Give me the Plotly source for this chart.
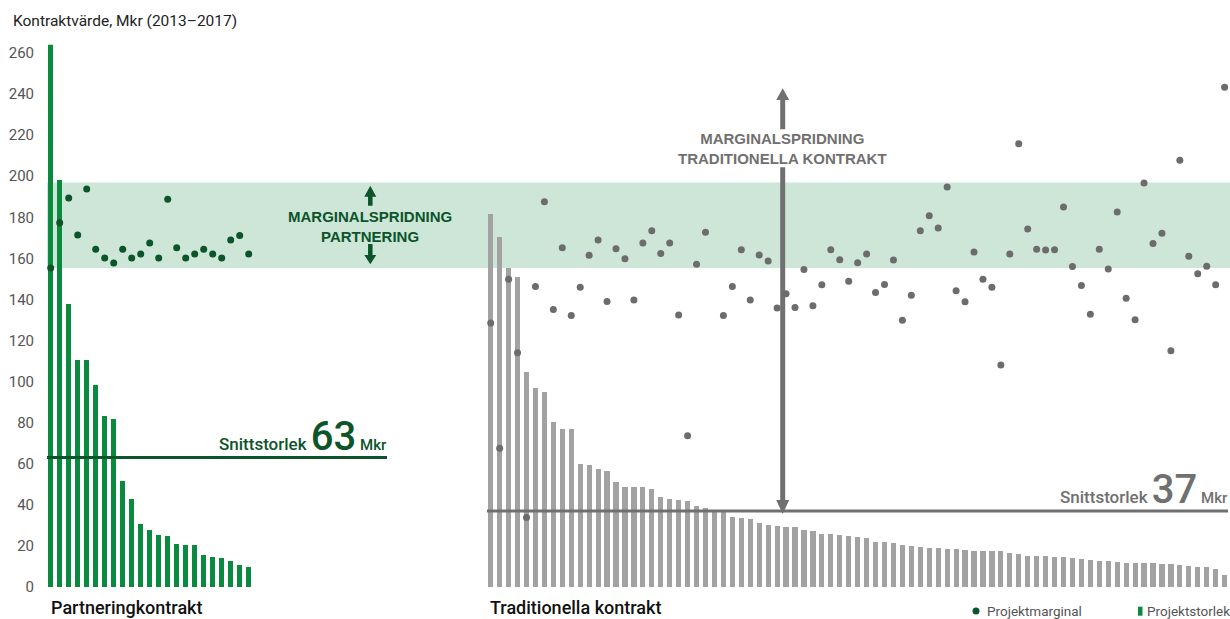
import plotly.graph_objects as go

W, H = 1230, 619

# Project size (Mkr) and project margin marker level, partnering contracts
partner_size = [288, 198, 138, 110.7, 110.4, 98.2, 83.3, 82, 51.7, 43, 30.6, 27.8,
                25.2, 25, 21.1, 20.3, 20.4, 15.8, 14.6, 14.1, 12.7, 10.9, 9.9]
partner_margin = [155.3, 177.4, 189.4, 171.4, 193.8, 164.4, 160.2, 157.7, 164.4, 160.2,
                  162.1, 167.5, 160.2, 188.8, 165.2, 160.2, 162.1, 164.4, 162.1, 160.2,
                  168.9, 171.2, 162.1]

# Project size (Mkr) and project margin marker level, traditional contracts
trad_size = [181.8, 170.2, 155.4, 150.7, 104.9, 96.9, 94.8, 80.5, 77.1, 77.1,
             59.8, 59.2, 57.4, 56.6, 50.9, 48.9, 48.6, 48.6, 47.6, 43.7,
             42.9, 42.3, 41.8, 39.5, 38.4, 37.0, 36.5, 34.3, 33.8, 33.2,
             31.2, 30.4, 29.8, 29.3, 29.3, 27.8, 27.5, 25.7, 25.7, 25.4,
             25.0, 24.2, 23.9, 21.8, 21.8, 21.3, 20.3, 20.0, 19.5, 19.2,
             18.9, 18.5, 18.5, 18.2, 17.6, 17.6, 17.6, 17.6, 16.6, 15.9,
             15.1, 15.1, 15.1, 14.6, 14.6, 14.1, 13.7, 13.2, 12.8, 12.7,
             12.4, 11.9, 11.5, 11.5, 11.5, 11.2, 11.1, 10.7, 10.1, 9.9,
             9.6, 8.8, 5.9]
trad_margin = [128.5, 67.5, 149.9, 114.0, 33.8, 146.3, 187.6, 135.1, 165.2, 132.2,
               145.9, 161.5, 168.9, 139.0, 164.7, 159.8, 139.7, 167.5, 173.5, 162.4,
               167.5, 132.4, 73.7, 157.1, 172.7, None, 132.2, 146.3, 164.2, 139.8,
               161.6, 158.7, 135.9, 142.8, 136.1, 154.6, 136.9, 147.2, 164.2, 159.4,
               148.9, 157.9, 162.1, 143.4, 147.3, 159.2, 129.9, 142.0, 173.5, 180.8,
               174.8, 194.8, 144.2, 138.9, 163.1, 149.8, 145.9, 108.1, 162.1, 215.8,
               174.3, 164.5, 164.1, 164.2, 185.0, 156.1, 146.8, 132.8, 164.4, 154.8,
               182.6, 140.6, 130.1, 196.7, 167.3, 172.2, 115.0, 207.8, 161.0, 152.5,
               156.2, 147.2, 243.3]

avg_partner = 63
avg_trad = 37
band_low, band_high = 155.3, 196.9
y_ticks = list(range(0, 261, 20))

GREEN = "#0a8a3f"
DARK_GREEN = "#0c5429"
BAND = "#cde6d8"
GREY_BAR = "#a2a2a2"
GREY_DOT = "#6c6c6c"
GREY_LINE = "#707070"

# pixel layout helpers (figure has zero margins, so paper == page)
Y0_PX, Y_TOP_PX, Y_MAX = 587.0, 44.8, 264.0
def fx(px):
    return px / W
def fy(py):
    return 1 - py / H
def val_to_px(v):
    return Y0_PX - v * (Y0_PX - Y_TOP_PX) / Y_MAX

L_FIRST, L_STEP, L_X0, L_X1 = 50.7, 9.0, 47.0, 387.0
R_FIRST, R_STEP, R_X0, R_X1 = 490.7, 8.95, 487.0, 1228.0
l_range = [(L_X0 - L_FIRST) / L_STEP, (L_X1 - L_FIRST) / L_STEP]
r_range = [(R_X0 - R_FIRST) / R_STEP, (R_X1 - R_FIRST) / R_STEP]

lx = list(range(len(partner_size)))
rx = list(range(len(trad_size)))

fig = go.Figure()

fig.add_trace(go.Bar(x=lx, y=partner_size, marker=dict(color=GREEN, line=dict(width=0)),
                     width=0.58, xaxis="x", yaxis="y", name="Projektstorlek"))
fig.add_trace(go.Bar(x=rx, y=trad_size, marker=dict(color=GREY_BAR, line=dict(width=0)),
                     width=0.58, xaxis="x2", yaxis="y", name="Projektstorlek"))

fig.add_trace(go.Scatter(x=l_range, y=[avg_partner] * 2, mode="lines",
                         line=dict(color=DARK_GREEN, width=3), xaxis="x", yaxis="y"))
fig.add_trace(go.Scatter(x=r_range, y=[avg_trad] * 2, mode="lines",
                         line=dict(color=GREY_LINE, width=3), xaxis="x2", yaxis="y"))

fig.add_trace(go.Scatter(x=lx, y=partner_margin, mode="markers",
                         marker=dict(color=DARK_GREEN, size=7), xaxis="x", yaxis="y",
                         name="Projektmarginal", cliponaxis=False))
fig.add_trace(go.Scatter(x=rx, y=trad_margin, mode="markers",
                         marker=dict(color=GREY_DOT, size=7), xaxis="x2", yaxis="y",
                         name="Projektmarginal", cliponaxis=False))

shapes = []
# margin band
shapes.append(dict(type="rect", xref="paper", yref="y", x0=fx(47), x1=1,
                   y0=band_low, y1=band_high, fillcolor=BAND, line=dict(width=0),
                   layer="below"))

def arrow_path(x, tip, base, tail, hw, sw):
    pts = [(x - sw / 2, tail), (x - sw / 2, base), (x - hw / 2, base), (x, tip),
           (x + hw / 2, base), (x + sw / 2, base), (x + sw / 2, tail)]
    return "M " + " L ".join(f"{fx(px):.5f},{fy(py):.5f}" for px, py in pts) + " Z"

def add_arrow(x, tip, base, tail, hw, sw, color):
    shapes.append(dict(type="path", xref="paper", yref="paper",
                       path=arrow_path(x, tip, base, tail, hw, sw),
                       fillcolor=color, line=dict(width=0), layer="below"))

# partnering spread arrows
add_arrow(370.3, 185.7, 196.7, 205.7, 12, 4.5, DARK_GREEN)
add_arrow(370.3, 264.3, 255.0, 244.0, 12, 4.5, DARK_GREEN)
# traditional spread arrows
add_arrow(782.7, 88.3, 100.0, 129.3, 13, 5, GREY_LINE)
add_arrow(782.7, val_to_px(avg_trad) + 3, val_to_px(avg_trad) - 11, 167.3, 13, 5, GREY_LINE)

# legend marks
shapes.append(dict(type="circle", xref="paper", yref="paper",
                   x0=fx(972.5), x1=fx(979.5), y0=fy(614.5), y1=fy(607.5),
                   fillcolor=DARK_GREEN, line=dict(width=0)))
shapes.append(dict(type="rect", xref="paper", yref="paper",
                   x0=fx(1138), x1=fx(1142.5), y0=fy(615.7), y1=fy(606.7),
                   fillcolor=GREEN, line=dict(width=0)))

FONT = "Roboto, Liberation Sans, sans-serif"
BOLD = "Liberation Sans, Roboto, sans-serif"

avg_label = ("Snittstorlek <span style='font-size:40px'>%d</span>"
             "<span style='font-size:15px'> Mkr</span>")

annotations = [
    dict(text="Kontraktvärde, Mkr (2013–2017)", x=fx(11), y=fy(21), xref="paper", yref="paper",
         xanchor="left", yanchor="middle", showarrow=False,
         font=dict(family=FONT, size=15.5, color="#222222")),
    dict(text="MARGINALSPRIDNING<br>PARTNERING", x=fx(370.3), y=fy(226), xref="paper",
         yref="paper", xanchor="center", yanchor="middle", showarrow=False,
         font=dict(family=BOLD, size=15, color=DARK_GREEN, weight="bold")),
    dict(text="MARGINALSPRIDNING<br>TRADITIONELLA KONTRAKT", x=fx(782.7), y=fy(149),
         xref="paper", yref="paper", xanchor="center", yanchor="middle", showarrow=False,
         font=dict(family=BOLD, size=15, color=GREY_LINE, weight="bold")),
    dict(text=avg_label % avg_partner,
         x=fx(389), y=avg_partner, xref="paper", yref="y", xanchor="right", yanchor="bottom",
         yshift=-4, showarrow=False,
         font=dict(family=FONT, size=17, color=DARK_GREEN, weight=500)),
    dict(text=avg_label % avg_trad,
         x=fx(1230), y=avg_trad, xref="paper", yref="y", xanchor="right", yanchor="bottom",
         yshift=-4, showarrow=False,
         font=dict(family=FONT, size=17, color=GREY_LINE, weight=500)),
    dict(text="Partneringkontrakt", x=fx(49), y=fy(607), xref="paper", yref="paper",
         xanchor="left", yanchor="middle", showarrow=False,
         font=dict(family=FONT, size=18, color="#111111", weight=500)),
    dict(text="Traditionella kontrakt", x=fx(488), y=fy(607), xref="paper", yref="paper",
         xanchor="left", yanchor="middle", showarrow=False,
         font=dict(family=FONT, size=18, color="#111111", weight=500)),
    dict(text="Projektmarginal", x=fx(985), y=fy(611), xref="paper", yref="paper",
         xanchor="left", yanchor="middle", showarrow=False,
         font=dict(family=FONT, size=13.5, color="#555555")),
    dict(text="Projektstorlek", x=fx(1145), y=fy(611), xref="paper", yref="paper",
         xanchor="left", yanchor="middle", showarrow=False,
         font=dict(family=FONT, size=13.5, color="#555555")),
]

ydom = [fy(Y0_PX), fy(Y_TOP_PX)]
fig.update_layout(
    width=W, height=H,
    margin=dict(l=0, r=0, t=0, b=0, autoexpand=False),
    paper_bgcolor="white", plot_bgcolor="rgba(0,0,0,0)",
    showlegend=False, bargap=0,
    font=dict(family=FONT, color="#555555"),
    xaxis=dict(domain=[fx(L_X0), fx(L_X1)], range=l_range, visible=False, fixedrange=True),
    xaxis2=dict(domain=[fx(R_X0), fx(R_X1)], range=r_range, visible=False, fixedrange=True,
                anchor="y"),
    yaxis=dict(domain=ydom, range=[0, Y_MAX], tickvals=y_ticks, showgrid=False,
               zeroline=False, showline=False, ticks="outside", ticklen=9,
               tickcolor="rgba(0,0,0,0)", tickfont=dict(size=15, color="#555555"),
               fixedrange=True, anchor="x"),
    shapes=shapes,
    annotations=annotations,
    hovermode=False,
)

fig.write_html("out.html", config=dict(displayModeBar=False, staticPlot=True))
